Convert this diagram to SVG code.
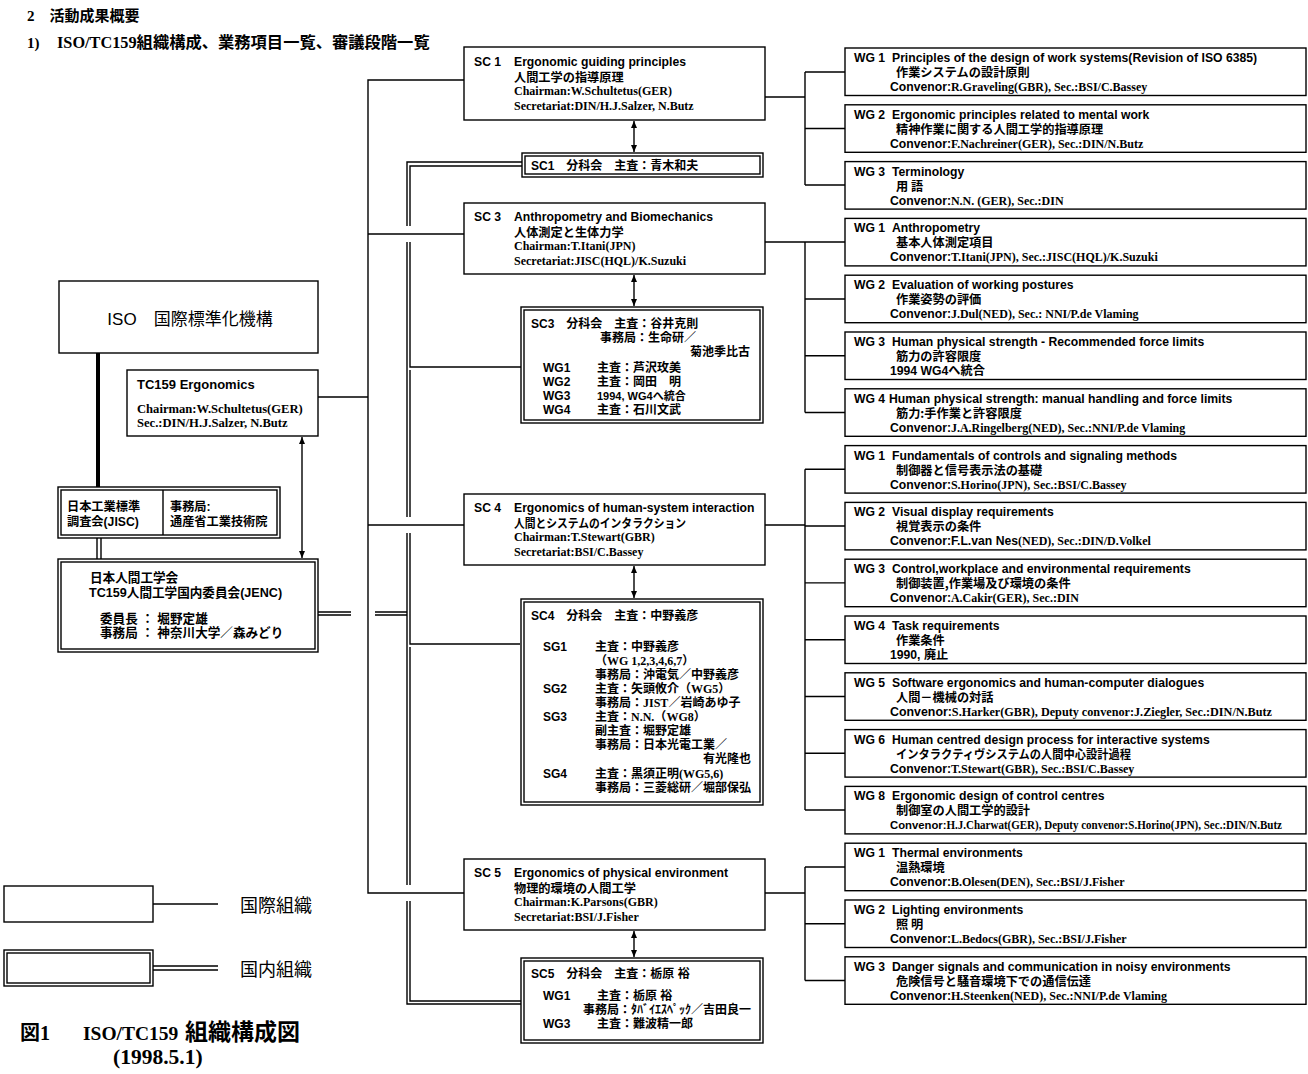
<svg xmlns="http://www.w3.org/2000/svg" width="1308" height="1074" viewBox="0 0 1308 1074">
<defs>
<style>
.box{fill:#fff;stroke:#000;stroke-width:1.4}
.ln{fill:none;stroke:#000;stroke-width:1.4}
.en{font-family:"Liberation Sans","Noto Sans CJK JP",sans-serif;font-weight:bold;font-size:12.2px}
.sr{font-family:"Liberation Serif","Noto Sans CJK JP",serif;font-weight:bold;font-size:12px}
.jp{font-family:"Noto Sans CJK JP",sans-serif;font-weight:bold;font-size:12.2px}
.hd{font-family:"Liberation Serif","Noto Sans CJK JP",serif;font-weight:bold;font-size:15px}
.cap{font-family:"Liberation Serif","Noto Sans CJK JP",serif;font-weight:bold;font-size:20px}
.lg{font-family:"Noto Sans CJK JP",sans-serif;font-size:18px}
</style>
<marker id="ah" viewBox="0 0 7 6" refX="7" refY="3" markerWidth="7" markerHeight="6" markerUnits="userSpaceOnUse" orient="auto-start-reverse">
<path d="M0,0 L7,3 L0,6 z" fill="#000"/>
</marker>
</defs>
<rect width="1308" height="1074" fill="#fff"/>

<g id="header">
<text class="hd" x="27" y="21">2　活動成果概要</text>
<text class="hd" x="27" y="48">1)<tspan x="57" style="font-size:16.3px">ISO/TC159組織構成、業務項目一覧、審議段階一覧</tspan></text>
</g>

<g id="connectors">
<line x1="98" y1="353" x2="98" y2="487" stroke="#000" stroke-width="4"/>
<path class="ln" d="M97,538 V559 M101,538 V559"/>
<line class="ln" x1="302" y1="437" x2="302" y2="558" marker-start="url(#ah)" marker-end="url(#ah)"/>
<path class="ln" d="M464,80 H368 V893 H464 M368,234 H464 M368,525 H464 M318,397 H368"/>
<path class="ln" d="M522,162 H407 V226 M407,242 V517 M407,533 V885 M407,901 V1004 H521"/>
<path class="ln" d="M522,166 H410 V226 M410,242 V367 H521 M410,370 V517 M410,533 V644 H520 M410,647 V885 M410,901 V1001 H521"/>
<path class="ln" d="M318,612 H351 M375,612 H407 M318,615 H351 M375,615 H407"/>
<line class="ln" x1="634" y1="121" x2="634" y2="152" marker-start="url(#ah)" marker-end="url(#ah)"/>
<line class="ln" x1="634" y1="275" x2="634" y2="306" marker-start="url(#ah)" marker-end="url(#ah)"/>
<line class="ln" x1="634" y1="566" x2="634" y2="598" marker-start="url(#ah)" marker-end="url(#ah)"/>
<line class="ln" x1="634" y1="931" x2="634" y2="957" marker-start="url(#ah)" marker-end="url(#ah)"/>
<path class="ln" d="M765,97 H805 M805,72 V185 M805,72 H845 M805,128.5 H845 M805,185 H845"/>
<path class="ln" d="M765,242 H805 M805,242 V412.5 M805,242 H845 M805,299 H845 M805,355.7 H845 M805,412.5 H845"/>
<path class="ln" d="M765,525 H805 M805,469.3 V810 M805,469.3 H845 M805,526 H845 M805,582.9 H845 M805,639.7 H845 M805,696.5 H845 M805,753.3 H845 M805,810 H845"/>
<path class="ln" d="M765,893 H805 M805,867 V980.5 M805,867 H845 M805,923.7 H845 M805,980.5 H845"/>
</g>

<g id="iso">
<rect class="box" x="59" y="281" width="259" height="72"/>
<text x="190" y="325" text-anchor="middle" style="font-family:'Liberation Sans','Noto Sans CJK JP',sans-serif;font-size:17px">ISO　国際標準化機構</text>
</g>

<g id="tc159">
<rect class="box" x="127" y="370" width="191" height="66"/>
<text class="en" x="137" y="389" style="font-size:13px">TC159  Ergonomics</text>
<text class="sr" x="137" y="413" style="font-size:12.6px">Chairman:W.Schultetus(GER)</text>
<text class="sr" x="137" y="427" style="font-size:12.6px">Sec.:DIN/H.J.Salzer, N.Butz</text>
</g>

<g id="jisc">
<rect class="box" x="58" y="487" width="222" height="51"/>
<rect class="box" x="61" y="490" width="216" height="45"/>
<line class="ln" x1="163" y1="490" x2="163" y2="535"/>
<text class="en" x="67" y="511">日本工業標準</text>
<text class="en" x="67" y="526">調査会(JISC)</text>
<text class="en" x="170" y="511">事務局:</text>
<text class="en" x="170" y="526">通産省工業技術院</text>
</g>

<g id="jenc">
<rect class="box" x="58" y="559" width="260" height="93"/>
<rect class="box" x="61" y="562" width="254" height="87"/>
<text class="en" x="90" y="582" style="font-size:12.6px">日本人間工学会</text>
<text class="en" x="89" y="597" style="font-size:12.6px">TC159人間工学国内委員会(JENC)</text>
<text class="en" x="100" y="623" style="font-size:12.6px">委員長 ：  堀野定雄</text>
<text class="en" x="100" y="637" style="font-size:12.6px">事務局 ：  神奈川大学／森みどり</text>
</g>

<g id="sc1">
<rect class="box" x="464" y="47" width="301" height="73"/>
<text class="en" x="474" y="66">SC 1</text>
<text class="en" x="514" y="66">Ergonomic guiding principles</text>
<text class="jp" x="514" y="82">人間工学の指導原理</text>
<text class="sr" x="514" y="95">Chairman:W.Schultetus(GER)</text>
<text class="sr" x="514" y="110">Secretariat:DIN/H.J.Salzer, N.Butz</text>
</g>

<g id="sc1-jp">
<rect class="box" x="522" y="153" width="241" height="24"/>
<rect class="box" x="525" y="156" width="235" height="18"/>
<text class="en" x="531" y="170" style="font-size:12px">SC1　分科会　主査：青木和夫</text>
</g>

<g id="sc3">
<rect class="box" x="464" y="203" width="301" height="71"/>
<text class="en" x="474" y="221">SC 3</text>
<text class="en" x="514" y="221">Anthropometry and Biomechanics</text>
<text class="jp" x="514" y="237">人体測定と生体力学</text>
<text class="sr" x="514" y="250">Chairman:T.Itani(JPN)</text>
<text class="sr" x="514" y="265">Secretariat:JISC(HQL)/K.Suzuki</text>
</g>

<g id="sc3-jp">
<rect class="box" x="521" y="307" width="242" height="116"/>
<rect class="box" x="524" y="310" width="236" height="110"/>
<text class="en" x="531" y="328" style="font-size:12px">SC3　分科会　主査：谷井克則</text>
<text class="en" x="600" y="342" style="font-size:12px">事務局：生命研／</text>
<text class="en" x="750" y="356" text-anchor="end" style="font-size:12px">菊池季比古</text>
<text class="en" x="543" y="372" style="font-size:12px">WG1</text>
<text class="en" x="597" y="372" style="font-size:12px">主査：芦沢玫美</text>
<text class="en" x="543" y="386" style="font-size:12px">WG2</text>
<text class="en" x="597" y="386" style="font-size:12px">主査：岡田　明</text>
<text class="en" x="543" y="400" style="font-size:12px">WG3</text>
<text class="en" x="597" y="400" style="font-size:11px">1994, WG4へ統合</text>
<text class="en" x="543" y="414" style="font-size:12px">WG4</text>
<text class="en" x="597" y="414" style="font-size:12px">主査：石川文武</text>
</g>

<g id="sc4">
<rect class="box" x="464" y="494" width="301" height="71"/>
<text class="en" x="474" y="512">SC 4</text>
<text class="en" x="514" y="512">Ergonomics of human-system interaction</text>
<text class="jp" x="514" y="528" textLength="172" lengthAdjust="spacingAndGlyphs">人間とシステムのインタラクション</text>
<text class="sr" x="514" y="541">Chairman:T.Stewart(GBR)</text>
<text class="sr" x="514" y="556">Secretariat:BSI/C.Bassey</text>
</g>

<g id="sc4-jp">
<rect class="box" x="521" y="599" width="242" height="206"/>
<rect class="box" x="524" y="602" width="236" height="200"/>
<text class="en" x="531" y="620" style="font-size:12px">SC4　分科会　主査：中野義彦</text>
<text class="en" x="543" y="651" style="font-size:12px">SG1</text>
<text class="en" x="595" y="651" style="font-size:12px">主査：中野義彦</text>
<text class="sr" x="595" y="665">（WG 1,2,3,4,6,7）</text>
<text class="en" x="595" y="679" style="font-size:12px">事務局：沖電気／中野義彦</text>
<text class="en" x="543" y="693" style="font-size:12px">SG2</text>
<text class="en" x="595" y="693" style="font-size:12px">主査：矢頭攸介（<tspan class="sr">WG5</tspan>）</text>
<text class="en" x="595" y="707" style="font-size:12px">事務局：<tspan class="sr">JIST</tspan>／岩崎あゆ子</text>
<text class="en" x="543" y="721" style="font-size:12px">SG3</text>
<text class="en" x="595" y="721" style="font-size:12px">主査：<tspan class="sr">N.N.</tspan>（<tspan class="sr">WG8</tspan>）</text>
<text class="en" x="595" y="735" style="font-size:12px">副主査：堀野定雄</text>
<text class="en" x="595" y="749" style="font-size:12px">事務局：日本光電工業／</text>
<text class="en" x="751" y="763" text-anchor="end" style="font-size:12px">有光隆也</text>
<text class="en" x="543" y="778" style="font-size:12px">SG4</text>
<text class="en" x="595" y="778" style="font-size:12px">主査：黒須正明<tspan class="sr">(WG5,6)</tspan></text>
<text class="en" x="595" y="792" style="font-size:12px">事務局：三菱総研／堀部保弘</text>
</g>

<g id="sc5">
<rect class="box" x="464" y="859" width="301" height="71"/>
<text class="en" x="474" y="877">SC 5</text>
<text class="en" x="514" y="877">Ergonomics of physical environment</text>
<text class="jp" x="514" y="893">物理的環境の人間工学</text>
<text class="sr" x="514" y="906">Chairman:K.Parsons(GBR)</text>
<text class="sr" x="514" y="921">Secretariat:BSI/J.Fisher</text>
</g>

<g id="sc5-jp">
<rect class="box" x="521" y="958" width="242" height="85"/>
<rect class="box" x="524" y="961" width="236" height="79"/>
<text class="en" x="531" y="978" style="font-size:12px">SC5　分科会　主査：栃原 裕</text>
<text class="en" x="543" y="1000" style="font-size:12px">WG1</text>
<text class="en" x="597" y="1000" style="font-size:12px">主査：栃原 裕</text>
<text class="en" x="583" y="1014" style="font-size:12px">事務局：ﾀﾊﾞｲｴｽﾍﾟｯｸ／吉田良一</text>
<text class="en" x="543" y="1028" style="font-size:12px">WG3</text>
<text class="en" x="597" y="1028" style="font-size:12px">主査：難波精一郎</text>
</g>

<g id="sc1-wg1">
<rect class="box" x="845" y="48" width="461" height="47.5"/>
<text class="en" x="854" y="62">WG 1</text><text class="en" x="892" y="62">Principles of the design of work systems(Revision of ISO 6385)</text>
<text class="jp" x="896" y="77">作業システムの設計原則</text>
<text class="sr" x="890" y="91"><tspan class="en">Convenor:</tspan>R.Graveling(GBR), Sec.:BSI/C.Bassey</text>
</g>
<g id="sc1-wg2">
<rect class="box" x="845" y="104.8" width="461" height="47.5"/>
<text class="en" x="854" y="118.8">WG 2</text><text class="en" x="892" y="118.8">Ergonomic principles related to mental work</text>
<text class="jp" x="896" y="133.8">精神作業に関する人間工学的指導原理</text>
<text class="sr" x="890" y="147.8"><tspan class="en">Convenor:</tspan>F.Nachreiner(GER), Sec.:DIN/N.Butz</text>
</g>
<g id="sc1-wg3">
<rect class="box" x="845" y="161.6" width="461" height="47.5"/>
<text class="en" x="854" y="175.6">WG 3</text><text class="en" x="892" y="175.6">Terminology</text>
<text class="jp" x="896" y="190.6">用 語</text>
<text class="sr" x="890" y="204.6"><tspan class="en">Convenor:</tspan>N.N. (GER), Sec.:DIN</text>
</g>
<g id="sc3-wg1">
<rect class="box" x="845" y="218.4" width="461" height="47.5"/>
<text class="en" x="854" y="232.4">WG 1</text><text class="en" x="892" y="232.4">Anthropometry</text>
<text class="jp" x="896" y="247.4">基本人体測定項目</text>
<text class="sr" x="890" y="261.4"><tspan class="en">Convenor:</tspan>T.Itani(JPN), Sec.:JISC(HQL)/K.Suzuki</text>
</g>
<g id="sc3-wg2">
<rect class="box" x="845" y="275.2" width="461" height="47.5"/>
<text class="en" x="854" y="289.2">WG 2</text><text class="en" x="892" y="289.2">Evaluation of working postures</text>
<text class="jp" x="896" y="304.2">作業姿勢の評価</text>
<text class="sr" x="890" y="318.2"><tspan class="en">Convenor:</tspan>J.Dul(NED), Sec.: NNI/P.de Vlaming</text>
</g>
<g id="sc3-wg3">
<rect class="box" x="845" y="332" width="461" height="47.5"/>
<text class="en" x="854" y="346">WG 3</text><text class="en" x="892" y="346">Human physical strength - Recommended force limits</text>
<text class="jp" x="896" y="361">筋力の許容限度</text>
<text class="en" x="890" y="375">1994  WG4へ統合</text>
</g>
<g id="sc3-wg4">
<rect class="box" x="845" y="388.8" width="461" height="47.5"/>
<text class="en" x="854" y="402.8">WG 4</text><text class="en" x="889" y="402.8">Human physical strength: manual handling and force limits</text>
<text class="jp" x="896" y="417.8">筋力:手作業と許容限度</text>
<text class="sr" x="890" y="431.8"><tspan class="en">Convenor:</tspan>J.A.Ringelberg(NED), Sec.:NNI/P.de Vlaming</text>
</g>
<g id="sc4-wg1">
<rect class="box" x="845" y="445.6" width="461" height="47.5"/>
<text class="en" x="854" y="459.6">WG 1</text><text class="en" x="892" y="459.6">Fundamentals of controls and signaling methods</text>
<text class="jp" x="896" y="474.6">制御器と信号表示法の基礎</text>
<text class="sr" x="890" y="488.6"><tspan class="en">Convenor:</tspan>S.Horino(JPN), Sec.:BSI/C.Bassey</text>
</g>
<g id="sc4-wg2">
<rect class="box" x="845" y="502.4" width="461" height="47.5"/>
<text class="en" x="854" y="516.4">WG 2</text><text class="en" x="892" y="516.4">Visual display requirements</text>
<text class="jp" x="896" y="531.4">視覚表示の条件</text>
<text class="sr" x="890" y="545.4"><tspan class="en">Convenor:F.L.van Nes</tspan>(NED), Sec.:DIN/D.Volkel</text>
</g>
<g id="sc4-wg3">
<rect class="box" x="845" y="559.2" width="461" height="47.5"/>
<text class="en" x="854" y="573.2">WG 3</text><text class="en" x="892" y="573.2">Control,workplace and environmental requirements</text>
<text class="jp" x="896" y="588.2">制御装置,作業場及び環境の条件</text>
<text class="sr" x="890" y="602.2"><tspan class="en">Convenor:</tspan>A.Cakir(GER), Sec.:DIN</text>
</g>
<g id="sc4-wg4">
<rect class="box" x="845" y="616" width="461" height="47.5"/>
<text class="en" x="854" y="630">WG 4</text><text class="en" x="892" y="630">Task requirements</text>
<text class="jp" x="896" y="645">作業条件</text>
<text class="en" x="890" y="659">1990, 廃止</text>
</g>
<g id="sc4-wg5">
<rect class="box" x="845" y="672.8" width="461" height="47.5"/>
<text class="en" x="854" y="686.8">WG 5</text><text class="en" x="892" y="686.8">Software ergonomics and human-computer dialogues</text>
<text class="jp" x="896" y="701.8">人間－機械の対話</text>
<text class="sr" x="890" y="715.8" textLength="382" lengthAdjust="spacingAndGlyphs"><tspan class="en">Convenor:</tspan>S.Harker(GBR), Deputy convenor:J.Ziegler,  Sec.:DIN/N.Butz</text>
</g>
<g id="sc4-wg6">
<rect class="box" x="845" y="729.6" width="461" height="47.5"/>
<text class="en" x="854" y="743.6">WG 6</text><text class="en" x="892" y="743.6">Human centred design process for interactive systems</text>
<text class="jp" x="896" y="758.6" textLength="235" lengthAdjust="spacingAndGlyphs">インタラクティヴシステムの人間中心設計過程</text>
<text class="sr" x="890" y="772.6"><tspan class="en">Convenor:</tspan>T.Stewart(GBR), Sec.:BSI/C.Bassey</text>
</g>
<g id="sc4-wg8">
<rect class="box" x="845" y="786.4" width="461" height="47.5"/>
<text class="en" x="854" y="800.4">WG 8</text><text class="en" x="892" y="800.4">Ergonomic design of control centres</text>
<text class="jp" x="896" y="815.4">制御室の人間工学的設計</text>
<text class="sr" x="890" y="828.6" style="font-size:11.5px" textLength="392" lengthAdjust="spacingAndGlyphs"><tspan class="en" style="font-size:11.8px">Convenor:</tspan>H.J.Charwat(GER), Deputy convenor:S.Horino(JPN), Sec.:DIN/N.Butz</text>
</g>
<g id="sc5-wg1">
<rect class="box" x="845" y="843.2" width="461" height="47.5"/>
<text class="en" x="854" y="857.2">WG 1</text><text class="en" x="892" y="857.2">Thermal environments</text>
<text class="jp" x="896" y="872.2">温熱環境</text>
<text class="sr" x="890" y="886.2"><tspan class="en">Convenor:</tspan>B.Olesen(DEN), Sec.:BSI/J.Fisher</text>
</g>
<g id="sc5-wg2">
<rect class="box" x="845" y="900" width="461" height="47.5"/>
<text class="en" x="854" y="914">WG 2</text><text class="en" x="892" y="914">Lighting environments</text>
<text class="jp" x="896" y="929">照 明</text>
<text class="sr" x="890" y="943"><tspan class="en">Convenor:</tspan>L.Bedocs(GBR), Sec.:BSI/J.Fisher</text>
</g>
<g id="sc5-wg3">
<rect class="box" x="845" y="956.8" width="461" height="47.5"/>
<text class="en" x="854" y="970.8">WG 3</text><text class="en" x="892" y="970.8">Danger signals and communication in noisy environments</text>
<text class="jp" x="896" y="985.8">危険信号と騒音環境下での通信伝達</text>
<text class="sr" x="890" y="999.8"><tspan class="en">Convenor:</tspan>H.Steenken(NED), Sec.:NNI/P.de Vlaming</text>
</g>

<g id="legend">
<rect class="box" x="4" y="886" width="149" height="36"/>
<line class="ln" x1="153" y1="904" x2="218" y2="904"/>
<text class="lg" x="240" y="912">国際組織</text>
<rect class="box" x="4" y="950" width="149" height="36"/>
<rect class="box" x="7" y="953" width="143" height="30"/>
<path class="ln" d="M153,966 H218 M153,970 H218"/>
<text class="lg" x="240" y="976">国内組織</text>
</g>

<g id="caption">
<text class="cap" x="20" y="1040">図1<tspan x="83" style="font-size:19.5px">ISO/TC159</tspan><tspan x="185" style="font-size:23px">組織構成図</tspan></text>
<text class="cap" x="113" y="1064" style="font-size:21.5px">(1998.5.1)</text>
</g>
</svg>
